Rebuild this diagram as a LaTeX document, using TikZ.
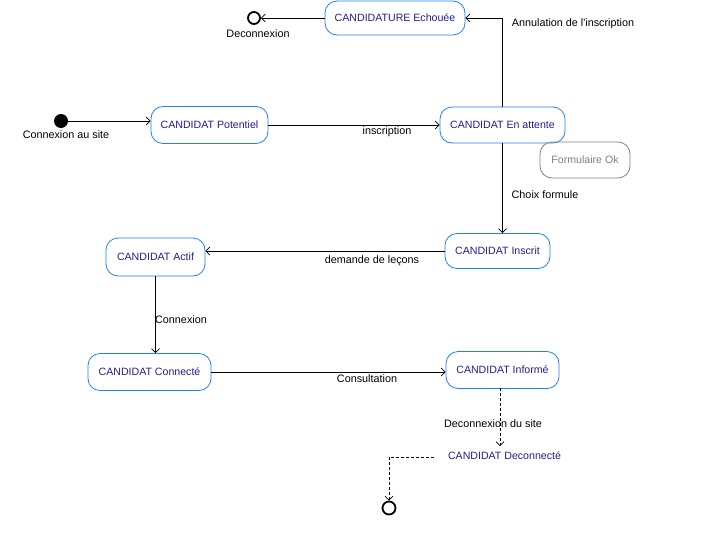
\documentclass[tikz,border=0pt]{standalone}
\usepackage{fontspec}
\setmainfont{Liberation Sans}
\usetikzlibrary{arrows.meta}
\definecolor{boxblue}{RGB}{30,130,250}
\definecolor{txtblue}{RGB}{35,30,140}
\definecolor{grayline}{RGB}{128,128,128}
\begin{document}
\begin{tikzpicture}[x=1pt,y=-1pt,
  font=\fontsize{10.6}{12}\selectfont,
  state/.style={draw=boxblue, rounded corners=12pt, text=txtblue, inner sep=0pt, line width=0.8pt},
  grstate/.style={draw=grayline, rounded corners=12pt, text=grayline, inner sep=0pt, line width=0.8pt},
  trans/.style={draw=black, line width=0.8pt, -{Straight Barb[length=4pt,width=8pt,line width=0.7pt]}},
  dtrans/.style={trans, dash pattern=on 3pt off 2pt},
  lbl/.style={text=black, inner sep=0pt, font=\fontsize{10.8}{12}\selectfont},
  finst/.style={circle, draw=black, line width=1.8pt, minimum size=12pt, inner sep=0pt},
  initst/.style={circle, fill=black, minimum size=14pt, inner sep=0pt}
]
\useasboundingbox (0,0) rectangle (711,549);
\fill[white] (0,0) rectangle (711,549);

% states
\node[state, minimum width=140pt, minimum height=34pt] (ech) at (395,18) {CANDIDATURE Echouée};
\node[finst] (fin1) at (254,18) {};
\node[lbl] (lfin1) at (258,34) {Deconnexion};

\node[initst] (init) at (61,121) {};
\node[lbl] (linit) at (66,135) {Connexion au site};

\node[state, minimum width=117pt, minimum height=37pt] (pot) at (209.5,125) {CANDIDAT Potentiel};
\node[state, minimum width=125pt, minimum height=36pt] (att) at (502.5,125) {CANDIDAT En attente};
\node[grstate, minimum width=90pt, minimum height=36pt] (form) at (585,160) {Formulaire Ok};

\node[state, minimum width=105pt, minimum height=35pt] (ins) at (497.5,251) {CANDIDAT Inscrit};
\node[state, minimum width=99pt, minimum height=38pt] (act) at (155.5,257) {CANDIDAT Actif};
\node[state, minimum width=123pt, minimum height=37pt] (con) at (149.5,372) {CANDIDAT Connecté};
\node[state, minimum width=113pt, minimum height=37pt] (inf) at (502.5,370) {CANDIDAT Informé};
\node[text=txtblue, inner sep=0pt, minimum width=116pt, minimum height=12pt] (dec) at (504.5,456) {CANDIDAT Deconnecté};
\node[finst, minimum size=13pt] (fin2) at (389,508) {};

% transitions
\draw[trans] (ech.west) -- (fin1.east);
\draw[trans] (att.north) |- (ech.east);
\node[lbl] (l1) at (573,24) {Annulation de l\textquotesingle inscription};

\draw[trans] (init.east) -- (init.east -| pot.west);

\draw[trans] (pot.east) -- (att.west);
\node[lbl] (l2) at (387,132) {inscription};

\draw[trans] (att.south) -- (att.south |- ins.north);
\node[lbl] (l3) at (545,195) {Choix formule};

\draw[trans] (ins.west) -- (ins.west -| act.east);
\node[lbl] (l4) at (372,261) {demande de leçons};

\draw[trans] (act.south) -- (act.south |- con.north);
\node[lbl] (l5) at (181,320) {Connexion};

\draw[trans] (con.east) -- (con.east -| inf.west);
\node[lbl] (l6) at (367,379) {Consultation};

\coordinate (dtop) at (500,388);
\coordinate (dbot) at (500,446);
\draw[dtrans] (dtop) -- (dbot);
\node[lbl] (l7) at (493,424) {Deconnexion du site};

\coordinate (hstart) at (434,457);
\draw[dtrans] (hstart) -| (fin2.north);
\end{tikzpicture}
\end{document}
